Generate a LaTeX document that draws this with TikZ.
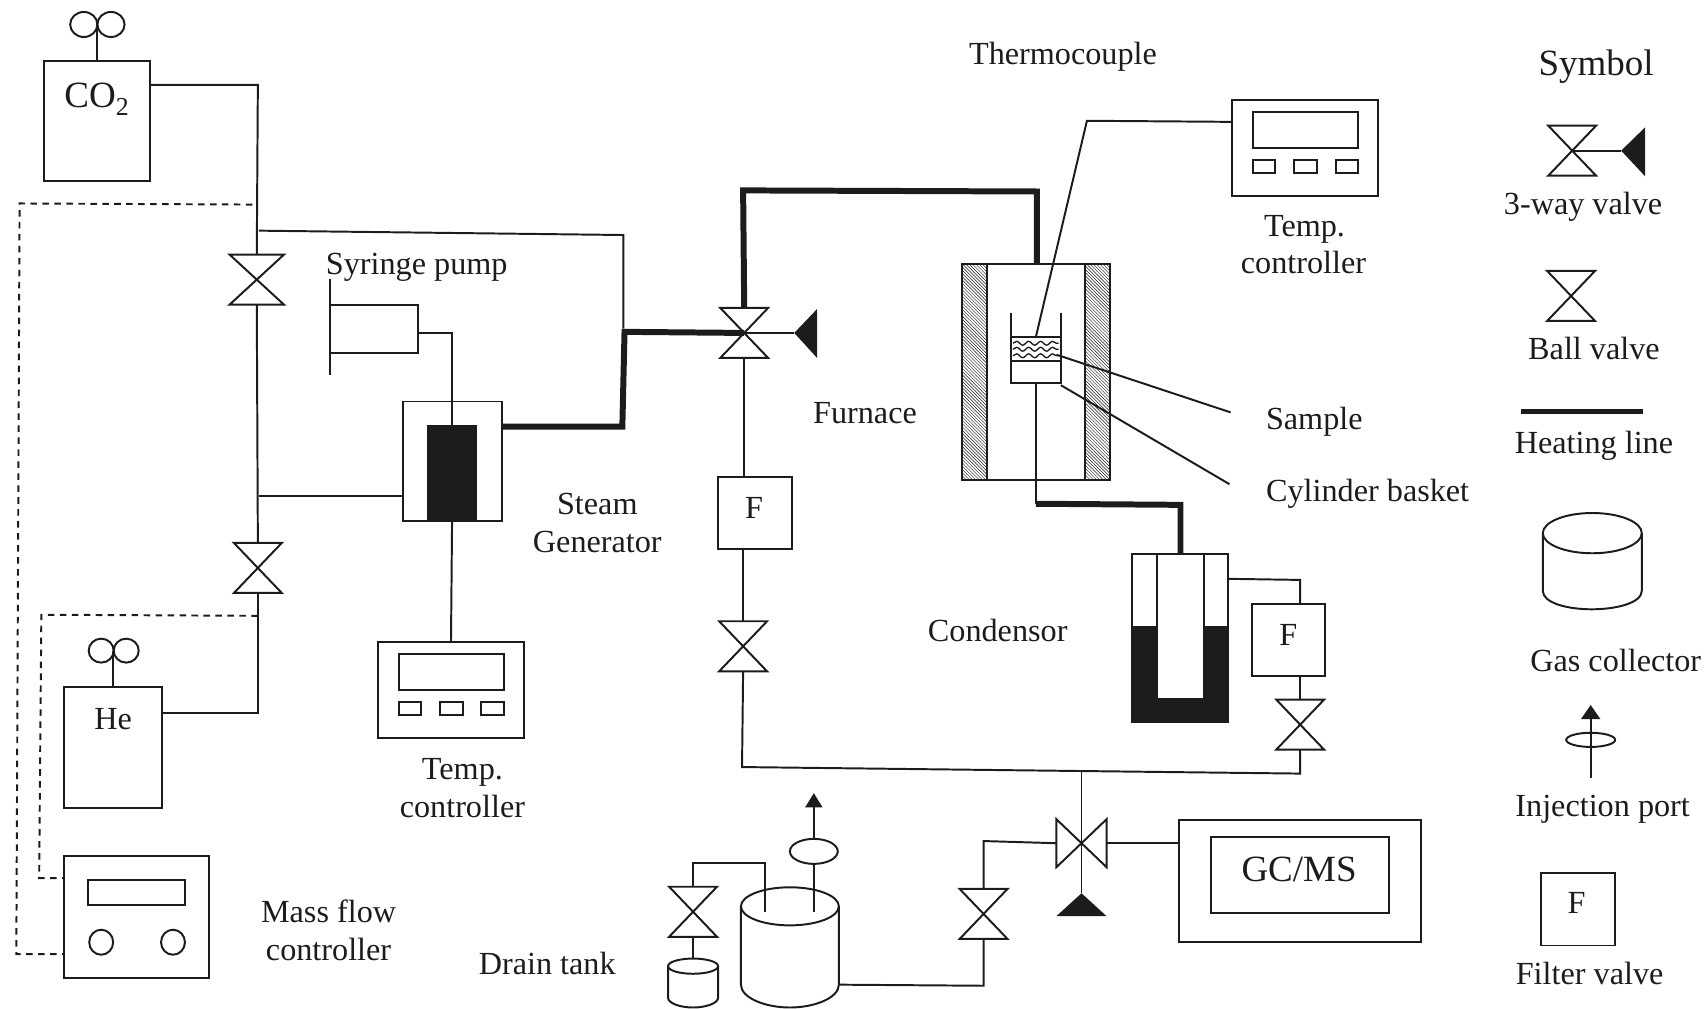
\documentclass[tikz,border=0pt]{standalone}
\usepackage{fontspec}
\setmainfont{Liberation Serif}
\usetikzlibrary{patterns,decorations.pathmorphing}
\definecolor{ink}{HTML}{1C1C1C}
\tikzset{
  ln/.style={draw=ink,line width=1.8pt,line join=miter},
  hot/.style={draw=ink,line width=5.5pt,line join=miter},
  dsh/.style={draw=ink,line width=1.8pt,dash pattern=on 6pt off 5pt},
  lab/.style={anchor=base,inner sep=0pt,yshift=-1.2pt,text=ink,font=\fontsize{29.6}{32}\selectfont},
  big/.style={anchor=base,inner sep=0pt,text=ink,font=\fontsize{34}{36}\selectfont},
  box/.style={draw=ink,line width=1.8pt,inner sep=0pt,outer sep=0pt,fill=white},
  pics/ballv/.style={code={
    \draw[ln,fill=white] (-#1,-23)--(#1,-23)--(-#1,23)--(#1,23)--cycle;
    \coordinate (-top) at (0,-23);
    \coordinate (-bot) at (0,23);
    \coordinate (-c) at (0,0);
  }},
  pics/ballv/.default=22,
  pics/panel/.style={code={
    \draw[ln] (-67,-44) rectangle (67,44);
    \draw[ln] (-48,-33) rectangle (49,0);
    \draw[ln] (-48,11) rectangle (-28,23);
    \draw[ln] (-10,11) rectangle (11,23);
    \draw[ln] (28,11) rectangle (49,23);
  }},
}
\begin{document}
\begin{tikzpicture}[x=1pt,y=-1pt]
\useasboundingbox (0,0) rectangle (1568,927);

% ---------- equipment nodes ----------
\node[box,minimum width=98pt,minimum height=110pt] (co2) at (89,111) {};
\node[box,minimum width=90pt,minimum height=112pt] (he) at (104,687) {};
\node[box,minimum width=133pt,minimum height=112pt] (mfc) at (125.5,843) {};
\node[box,minimum width=81pt,minimum height=44pt] (syr) at (343.5,302) {};
\node[box,minimum width=91pt,minimum height=110pt] (steam) at (415.5,424) {};
\node[box,minimum width=68pt,minimum height=67pt] (f1) at (694,471.5) {};
\node[box,minimum width=67pt,minimum height=66pt] (f2) at (1184.5,588) {};
\node[box,minimum width=222pt,minimum height=112pt] (gc) at (1195,810) {};
\node[box,minimum width=164pt,minimum height=70pt] (gcin) at (1195,804) {};
\node[box,minimum width=68pt,minimum height=67pt] (f3) at (1450,835.5) {};

% valves
\pic (v1) at (236,257) {ballv=25};
\pic (v2) at (237,522) {ballv};
\pic (v3) at (683,594) {ballv};
\pic (v4) at (1195,666) {ballv};
\pic (v5) at (904,840) {ballv};
\pic (v6) at (637,838) {ballv};
\pic[rotate=90] (v7) at (994,775) {ballv};
\pic (v8) at (684,306) {ballv};

% gas cylinders knobs
\coordinate (co2k) at (89,22);
\coordinate (hek) at (104,598);
\draw[ln] (77,22.5) ellipse [x radius=12.5,y radius=11.5];
\draw[ln] (102,22.5) ellipse [x radius=12.5,y radius=11.5];
\draw[ln] (93,598) ellipse [x radius=11.5,y radius=11];
\draw[ln] (116,598) ellipse [x radius=11.5,y radius=11];
\draw[ln] (co2.north) -- (co2k);
\draw[ln] (he.north) -- (hek);

% CO2 / He gas lines
\coordinate (a1) at (237,78);
\coordinate (a2) at (238,212);
\coordinate (a3) at (573,216);
\coordinate (a4) at (238,456);
\coordinate (a5) at (237,655);
\draw[ln] (a1 -| co2.east) -- (a1) -- (v1-top);
\draw[ln] (v1-bot) -- (v2-top);
\draw[ln] (a2) -- (a3) -- (573,302);
\draw[ln] (a4) -- (a4 -| steam.west);
\draw[ln] (v2-bot) -- (a5) -- (a5 -| he.east);

% dashed signal lines
\coordinate (d1) at (232,188);
\coordinate (d2) at (18,187);
\coordinate (d3) at (15,877);
\coordinate (d4) at (237,566);
\coordinate (d5) at (38,565);
\coordinate (d6) at (36,807);
\draw[dsh] (d1) -- (d2) -- (d3) -- (d3 -| mfc.west);
\draw[dsh] (d4) -- (d5) -- (d6) -- (d6 -| mfc.west);

% mass flow controller
\draw[ln] (81,809) rectangle (170,832);
\draw[ln] (93,866) ellipse [x radius=11,y radius=11.5];
\draw[ln] (159,866) ellipse [x radius=11,y radius=11.5];

% syringe pump
\draw[ln] (303,256) -- (303,345);
\coordinate (s1) at (415,306);
\draw[ln] (s1 -| syr.east) -- (s1) -- (415,391);

% steam generator
\fill[ink] (392,391) rectangle (438,479);

% temperature controller 1
\pic at (414.5,634) {panel};
\coordinate (t1) at (414.5,590);
\draw[ln] (steam.south) -- (t1);

% heating lines
\coordinate (h1) at (572,392);
\coordinate (h2) at (574,305);
\draw[hot] (steam.east |- h1) -- (h1) -- (h2) -- (v8-c);
\coordinate (h3) at (683,175);
\coordinate (h4) at (953,176);
\coordinate (h5) at (953,243);
\draw[hot] (v8-top) -- (h3) -- (h4) -- (h5);
\coordinate (h6) at (952,463);
\coordinate (h7) at (1085,464);
\coordinate (h8) at (1085,509);
\draw[hot] (h6) -- (h7) -- (h8);

% three-way valve
\coordinate (w1) at (730,306);
\draw[ln] (v8-c) -- (w1);
\fill[ink] (w1) -- (751,284) -- (751,329) -- cycle;
\draw[ln] (v8-bot) -- (f1.north -| v8-bot);
\draw[ln] (f1.south -| v3-top) -- (v3-top);

% furnace
\draw[ln,fill=white] (884,243) rectangle (1020,441);
\draw[ln,pattern=north west lines,pattern color=ink] (884,243) rectangle (907,441);
\draw[ln,pattern=north west lines,pattern color=ink] (997,243) rectangle (1020,441);

% basket + sample
\draw[ln] (929,288) -- (929,352) -- (975,352) -- (975,288);
\draw[ln] (929,310) -- (975,310);
\draw[ln] (929,332) -- (975,332);
\foreach \yy in {315.5,321,327}
  \draw[ink,line width=1.2pt,decorate,decoration={snake,segment length=11pt,amplitude=1.8pt}] (931,\yy) -- (973,\yy);
\coordinate (b1) at (952,352);
\draw[ln] (b1) -- (h6);

% thermocouple and controller 2
\pic at (1199.5,136) {panel};
\coordinate (c1) at (999,111);
\coordinate (c2) at (1132.5,112);
\coordinate (c3) at (952,310);
\draw[ln] (c3) -- (c1) -- (c2);

% leaders
\coordinate (l1) at (971,326);
\coordinate (l2) at (1131,379);
\coordinate (l3) at (975,354);
\coordinate (l4) at (1130,445);
\draw[ln] (l1) -- (l2);
\draw[ln] (l3) -- (l4);

% condenser
\draw[ln] (1040,509) rectangle (1129,664);
\fill[ink] (1040,575) rectangle (1129,664);
\fill[white] (1063,509) rectangle (1107,642);
\draw[ln] (1063,509) -- (1063,642) -- (1107,642) -- (1107,509);
\draw[ln] (1040,509) -- (1129,509);
\coordinate (k1) at (1129,532);
\coordinate (k2) at (1195,533);
\draw[ln] (k1) -- (k2) -- (k2 |- f2.north);
\draw[ln] (k2 |- f2.south) -- (v4-top);

% collecting line
\coordinate (m1) at (682,705);
\coordinate (m2) at (1195,711);
\coordinate (m3) at (994,709);
\draw[ln] (v3-bot) -- (m1) -- (m2) -- (v4-bot);
\coordinate (t2) at (994,821);
\draw[ln] (m3) -- (t2);
\fill[ink] (t2) -- (1017,842) -- (971,842) -- cycle;

% to GC/MS and drain tank
\draw[ln] (v7-bot) -- (v7-bot -| gc.west);
\coordinate (n1) at (904,773);
\draw[ln] (v7-top) -- (n1) -- (v5-top);
\coordinate (n2) at (904,906);
\coordinate (n3) at (771,905);
\draw[ln] (v5-bot) -- (n2) -- (n3);

% drain tank
\draw[ln] (681,833) -- (681,905) .. controls (681,917) and (703,926) .. (726,926) .. controls (749,926) and (771,917) .. (771,905) -- (771,833);
\draw[ln] (726,833) ellipse [x radius=45,y radius=17.5];
\coordinate (p1) at (703,838);
\coordinate (p2) at (703,793);
\coordinate (p3) at (637,793);
\draw[ln] (p1) -- (p2) -- (p3) -- (v6-top);
\draw[ln] (614,888) -- (614,917) .. controls (614,922) and (625,926) .. (637,926) .. controls (649,926) and (660,922) .. (660,917) -- (660,888);
\draw[ln] (637,888) ellipse [x radius=23,y radius=7];
\draw[ln] (v6-bot) -- (637,881);

% injection port on the tank
\draw[ln] (748,782.5) ellipse [x radius=22,y radius=11.5];
\coordinate (q1) at (748,838);
\coordinate (q2) at (748,794);
\coordinate (q3) at (748,771);
\coordinate (q4) at (748,741);
\draw[ln] (q1) -- (q2);
\draw[ln] (q3) -- (q4);
\fill[ink] (748,729) -- (756,742) -- (740,742) -- cycle;

% ---------- symbol legend ----------
\pic (s3) at (1445,138.5) {ballv};
\coordinate (s4) at (1490,138.5);
\draw[ln] (s3-c) -- (s4);
\fill[ink] (s4) -- (1512,117) -- (1512,162) -- cycle;
\pic at (1444,272) {ballv};
\coordinate (s5) at (1398,378.5);
\coordinate (s6) at (1510,378.5);
\draw[draw=ink,line width=4.5pt] (s5) -- (s6);
\draw[ln] (1418,490) -- (1418,543) .. controls (1418,554) and (1440,560) .. (1463,560) .. controls (1486,560) and (1509,554) .. (1509,543) -- (1509,490);
\draw[ln] (1463.5,490) ellipse [x radius=45.5,y radius=18.5];
\coordinate (i1) at (1462,715);
\coordinate (i2) at (1462,660);
\draw[ln] (i1) -- (i2);
\draw[ln] (1462,680) ellipse [x radius=22.5,y radius=6.5];
\fill[ink] (1462,648) -- (1471,661) -- (1453,661) -- cycle;

% ---------- labels ----------
\node[big] (tco2) at (89,99) {CO\textsubscript{2}};
\node[lab] (the) at (104,669) {He};
\node[lab] (tsyr) at (383,251) {Syringe pump};
\node[lab] (tst1) at (549,472) {Steam};
\node[lab] (tst2) at (549,507) {Generator};
\node[lab] (ttc1) at (425,715) {Temp.};
\node[lab] (ttc2) at (425,750) {controller};
\node[lab] (tmf1) at (302,847) {Mass flow};
\node[lab] (tmf2) at (302,882) {controller};
\node[lab] (tdr) at (503,894) {Drain tank};
\node[lab] (tthe) at (977,58) {Thermocouple};
\node[lab] (ttc3) at (1199,216) {Temp.};
\node[lab] (ttc4) at (1198,250) {controller};
\node[lab] (tfu) at (795,388) {Furnace};
\node[lab] (tsa) at (1208,394) {Sample};
\node[lab] (tcy) at (1257,460) {Cylinder basket};
\node[lab] (tco) at (917,588) {Condensor};
\node[lab] (tf1) at (693,475) {F};
\node[lab] (tf2) at (1184,592) {F};
\node[big] (tgc) at (1194,810) {GC/MS};
\node[big] (tsy) at (1467,69) {Symbol};
\node[lab] (ts1) at (1455,196) {3-way valve};
\node[lab] (ts2) at (1465,329) {Ball valve};
\node[lab] (ts3) at (1465,416) {Heating line};
\node[lab] (ts4) at (1485,616) {Gas collector};
\node[lab] (ts5) at (1473,749) {Injection port};
\node[lab] (tf3) at (1449,838) {F};
\node[lab] (ts6) at (1461,904) {Filter valve};
\end{tikzpicture}
\end{document}
